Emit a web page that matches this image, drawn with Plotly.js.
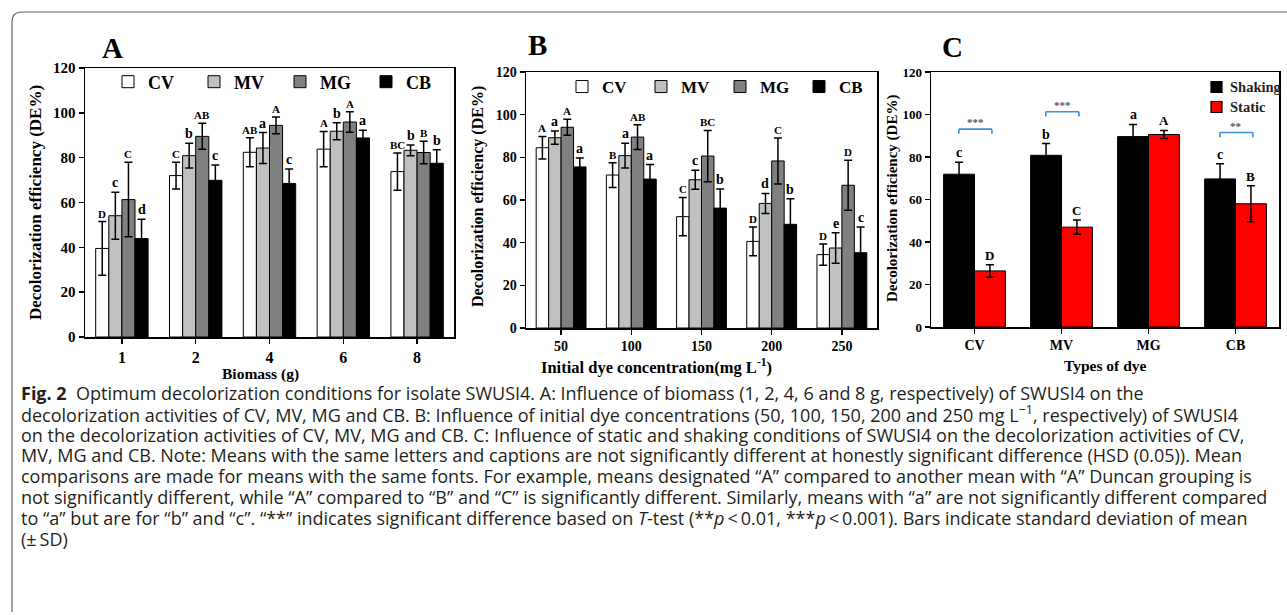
<!DOCTYPE html>
<html>
<head>
<meta charset="utf-8">
<script src="https://cdn.plot.ly/plotly-3.0.1.min.js"></script>
<style>
html,body{margin:0;padding:0;background:#fff;}
#chart{width:1287px;height:615px;}
</style>
</head>
<body>
<div id="chart"></div>
<script>
// ---------------- DATA ----------------
const seriesNames = ['CV', 'MV', 'MG', 'CB'];

// Panel A: biomass (g)
const biomassCats = ['1', '2', '4', '6', '8'];
const A_CV = [39.5, 72.0, 82.4, 83.8, 73.8];
const A_MV = [54.1, 80.9, 84.3, 91.8, 83.3];
const A_MG = [61.3, 89.5, 94.4, 95.9, 82.3];
const A_CB = [43.9, 69.9, 68.5, 88.8, 77.5];
const A_CV_err = [12.0, 6.0, 6.5, 7.9, 8.3];
const A_MV_err = [10.5, 5.5, 6.9, 3.8, 2.4];
const A_MG_err = [16.6, 5.8, 3.7, 4.6, 5.0];
const A_CB_err = [8.6, 6.8, 6.5, 3.4, 6.0];
const A_CV_lab = ['D', 'C', 'AB', 'A', 'BC'];
const A_MV_lab = ['c', 'b', 'a', 'b', 'b'];
const A_MG_lab = ['C', 'AB', 'A', 'A', 'B'];
const A_CB_lab = ['d', 'c', 'c', 'a', 'b'];

// Panel B: initial dye concentration (mg/L)
const concCats = ['50', '100', '150', '200', '250'];
const B_CV = [84.5, 71.7, 52.2, 40.6, 34.4];
const B_MV = [89.2, 80.8, 69.5, 58.4, 37.5];
const B_MG = [94.1, 89.5, 80.6, 78.3, 66.9];
const B_CB = [75.5, 69.8, 56.2, 48.6, 35.3];
const B_CV_err = [5.3, 5.8, 9.0, 6.7, 5.0];
const B_MV_err = [3.1, 5.8, 4.5, 4.7, 7.2];
const B_MG_err = [3.7, 5.8, 12.0, 10.8, 11.7];
const B_CB_err = [4.2, 6.8, 9.0, 12.0, 12.0];
const B_CV_lab = ['A', 'B', 'C', 'D', 'D'];
const B_MV_lab = ['a', 'a', 'c', 'd', 'e'];
const B_MG_lab = ['A', 'AB', 'BC', 'C', 'D'];
const B_CB_lab = ['a', 'a', 'b', 'b', 'c'];

// Panel C: types of dye, shaking vs static
const dyeCats = ['CV', 'MV', 'MG', 'CB'];
const conditionNames = ['Shaking', 'Static'];
const C_shaking = [71.9, 80.8, 89.6, 69.7];
const C_static = [26.4, 47.0, 90.6, 58.0];
const C_shaking_err = [5.6, 5.5, 5.7, 7.1];
const C_static_err = [2.9, 3.3, 1.9, 8.5];
const C_shaking_lab = ['c', 'b', 'a', 'c'];
const C_static_lab = ['D', 'C', 'A', 'B'];
// T-test significance brackets (category index, bracket height, label)
const sigCatIndex = [0, 1, 3];
const sigHeight = [93.1, 101.3, 91.5];
const sigLabel = ['***', '***', '**'];

// Caption
const captionLines = [
  '<b>Fig. 2</b>  Optimum decolorization conditions for isolate SWUSI4. A: Influence of biomass (1, 2, 4, 6 and 8 g, respectively) of SWUSI4 on the',
  'decolorization activities of CV, MV, MG and CB. B: Influence of initial dye concentrations (50, 100, 150, 200 and 250 mg L<sup>\u22121</sup>, respectively) of SWUSI4',
  'on the decolorization activities of CV, MV, MG and CB. C: Influence of static and shaking conditions of SWUSI4 on the decolorization activities of CV,',
  'MV, MG and CB. Note: Means with the same letters and captions are not significantly different at honestly significant difference (HSD (0.05)).\u00a0Mean',
  'comparisons are made for means with the same fonts. For example, means designated \u201cA\u201d compared to another mean with \u201cA\u201d Duncan grouping is',
  'not significantly different, while \u201cA\u201d compared to \u201cB\u201d and \u201cC\u201d is significantly different. Similarly, means with \u201ca\u201d are not significantly different compared',
  'to \u201ca\u201d but are for \u201cb\u201d and \u201cc\u201d. \u201c**\u201d indicates significant difference based on <i>T</i>-test (**<i>p</i>\u2009<\u20090.01, ***<i>p</i>\u2009<\u20090.001). Bars indicate standard deviation of mean',
  '(\u00b1\u2009SD)'
];

// ---------------- STYLE / LAYOUT ----------------
const W = 1287, H = 615;
const px = x => x / W;
const py = y => 1 - y / H;
const SERIF = 'Liberation Serif, Times New Roman, serif';
const SANS = 'Open Sans, Noto Sans, sans-serif';
const barColors = ['#ffffff', '#c0c0c0', '#808080', '#000000'];
const condColors = ['#000000', '#ff0000'];
const BARGAP = 0.29;

const traces = [];
const annotations = [];
const shapes = [];

function addPanel(cats, vals, errs, labs, names, colors, xa, ya, legendId, showLeg) {
  const n = vals.length;
  const bw = (1 - BARGAP) / n;
  for (let s = 0; s < n; s++) {
    traces.push({
      type: 'bar', x: cats, y: vals[s], name: names[s],
      xaxis: xa, yaxis: ya, legend: legendId, showlegend: showLeg,
      marker: {color: colors[s], line: {color: '#000', width: 1}},
      error_y: {type: 'data', array: errs[s], visible: true, color: '#000', thickness: 1.5, width: 4},
      hoverinfo: 'x+y+name'
    });
    const off = -((1 - BARGAP) / 2) + bw * (s + 0.5);
    for (let i = 0; i < cats.length; i++) {
      const lab = labs[s][i];
      const upper = lab === lab.toUpperCase();
      annotations.push({
        xref: xa, yref: ya, x: i + off, y: vals[s][i] + errs[s][i],
        xanchor: 'center', yanchor: 'bottom', yshift: 0, showarrow: false,
        text: lab,
        font: {family: SERIF, size: upper ? 11 : 14, weight: 'bold', color: '#000'}
      });
    }
  }
}

addPanel(biomassCats, [A_CV, A_MV, A_MG, A_CB], [A_CV_err, A_MV_err, A_MG_err, A_CB_err],
  [A_CV_lab, A_MV_lab, A_MG_lab, A_CB_lab], seriesNames, barColors, 'x', 'y', 'legend', true);
addPanel(concCats, [B_CV, B_MV, B_MG, B_CB], [B_CV_err, B_MV_err, B_MG_err, B_CB_err],
  [B_CV_lab, B_MV_lab, B_MG_lab, B_CB_lab], seriesNames, barColors, 'x2', 'y2', 'legend2', true);
addPanel(dyeCats, [C_shaking, C_static], [C_shaking_err, C_static_err],
  [C_shaking_lab, C_static_lab], conditionNames, condColors, 'x3', 'y3', 'legend', false);

// label sizes in C
annotations.forEach(a => { if (a.xref === 'x3') a.font.size = a.text === a.text.toUpperCase() ? 13 : 14; });

// significance brackets
const bl = -0.18, br = 0.2, drop = 2.2;
const bracketStyle = {color: '#3a8fd8', width: 1.6};
for (let k = 0; k < sigCatIndex.length; k++) {
  const c = sigCatIndex[k], h = sigHeight[k];
  shapes.push({type: 'line', xref: 'x3', yref: 'y3', x0: c + bl, x1: c + br, y0: h, y1: h, line: bracketStyle});
  shapes.push({type: 'line', xref: 'x3', yref: 'y3', x0: c + bl, x1: c + bl, y0: h, y1: h - drop, line: bracketStyle});
  shapes.push({type: 'line', xref: 'x3', yref: 'y3', x0: c + br, x1: c + br, y0: h, y1: h - drop, line: bracketStyle});
  annotations.push({xref: 'x3', yref: 'y3', x: c + (bl + br) / 2, y: h, yanchor: 'bottom', yshift: -1,
    showarrow: false, text: sigLabel[k], font: {family: SERIF, size: 11, weight: 'bold', color: '#555'}});
}

// Panel C legend (compact, drawn as keys + labels)
conditionNames.forEach((nm, k) => {
  const cy = 87 + 20 * k;
  shapes.push({type: 'rect', xref: 'paper', yref: 'paper', x0: px(1211), x1: px(1222), y0: py(cy + 5.5), y1: py(cy - 5.5),
    fillcolor: condColors[k], line: {color: '#000', width: 1.2}});
  annotations.push({xref: 'paper', yref: 'paper', x: px(1228), y: py(cy), xanchor: 'left', yanchor: 'middle',
    showarrow: false, text: nm, font: {family: SERIF, size: 14.5, weight: 'bold', color: '#222'}});
});

// outer rounded frame
const r = 10;
shapes.push({
  type: 'path', xref: 'paper', yref: 'paper',
  path: `M${px(12)},${py(612)} L${px(12)},${py(12 + r)} Q${px(12)},${py(12)} ${px(12 + r)},${py(12)} L${px(1290)},${py(12)}`,
  line: {color: '#666', width: 1.2}
});

// panel letters
[['A', 112, 48], ['B', 537, 45], ['C', 952, 47]].forEach(([t, x, y]) => annotations.push({
  xref: 'paper', yref: 'paper', x: px(x), y: py(y), xanchor: 'center', yanchor: 'middle',
  showarrow: false, text: t, font: {family: SERIF, size: 29, weight: 'bold', color: '#000'}
}));

// axis titles
const yTitle = 'Decolorization efficiency (DE%)';
[[35, 203, 17], [478, 197, 16], [893, 199, 15]].forEach(([x, y, s]) => annotations.push({
  xref: 'paper', yref: 'paper', x: px(x), y: py(y), xanchor: 'center', yanchor: 'middle',
  textangle: -90, showarrow: false, text: yTitle, font: {family: SERIF, size: s, weight: 'bold', color: '#000'}
}));
[['Biomass (g)', 260, 374, 15.5], ['Initial dye concentration(mg L<sup>-1</sup>)', 656, 366, 16.5], ['Types of dye', 1105, 365, 15.5]]
  .forEach(([t, x, y, s]) => annotations.push({
    xref: 'paper', yref: 'paper', x: px(x), y: py(y), xanchor: 'center', yanchor: 'middle',
    showarrow: false, text: t, font: {family: SERIF, size: s, weight: 'bold', color: '#000'}
  }));

// caption
captionLines.forEach((t, i) => annotations.push({
  xref: 'paper', yref: 'paper', x: px(19), y: py(393 + 20.8 * i), xanchor: 'left', yanchor: 'middle',
  align: 'left', showarrow: false, text: t, font: {family: SANS, size: 18, color: '#231f20'}
}));

function xAxis(domain, anchor, size) {
  return {domain, anchor, type: 'category', showline: true, linecolor: '#000', linewidth: 1.5, mirror: true,
    ticks: 'outside', ticklen: 5, tickwidth: 1.5, tickcolor: '#000', showgrid: false, zeroline: false,
    tickfont: {family: SERIF, size, weight: 'bold', color: '#000'}, fixedrange: true};
}
function yAxis(domain, anchor, size) {
  return {domain, anchor, range: [0, 120], dtick: 20, showline: true, linecolor: '#000', linewidth: 1.5, mirror: true,
    ticks: 'outside', ticklen: 5, tickwidth: 1.5, tickcolor: '#000', showgrid: false, zeroline: false,
    tickfont: {family: SERIF, size, weight: 'bold', color: '#000'}, fixedrange: true};
}

const legendBase = {orientation: 'h', xanchor: 'left', yanchor: 'middle', bgcolor: 'rgba(0,0,0,0)', borderwidth: 0,
  entrywidthmode: 'pixels', traceorder: 'normal'};

const layout = {
  width: W, height: H,
  margin: {l: 0, r: 0, t: 0, b: 0},
  paper_bgcolor: '#fff', plot_bgcolor: '#fff',
  barmode: 'group', bargap: BARGAP, bargroupgap: 0,
  showlegend: true,
  xaxis: xAxis([px(85), px(454)], 'y', 16),
  yaxis: yAxis([py(337), py(68)], 'x', 15),
  xaxis2: xAxis([px(526), px(877)], 'y2', 14),
  yaxis2: yAxis([py(328), py(72)], 'x2', 14),
  xaxis3: xAxis([px(931), px(1279)], 'y3', 14),
  yaxis3: yAxis([py(327), py(72)], 'x3', 13),
  legend: Object.assign({}, legendBase, {x: px(108), y: py(82), entrywidth: 41,
    font: {family: SERIF, size: 18, weight: 'bold', color: '#000'}}),
  legend2: Object.assign({}, legendBase, {x: px(562), y: py(87), entrywidth: 34,
    font: {family: SERIF, size: 17, weight: 'bold', color: '#000'}}),
  annotations, shapes
};

Plotly.newPlot('chart', traces, layout, {displayModeBar: false, staticPlot: true});
</script>
</body>
</html>
